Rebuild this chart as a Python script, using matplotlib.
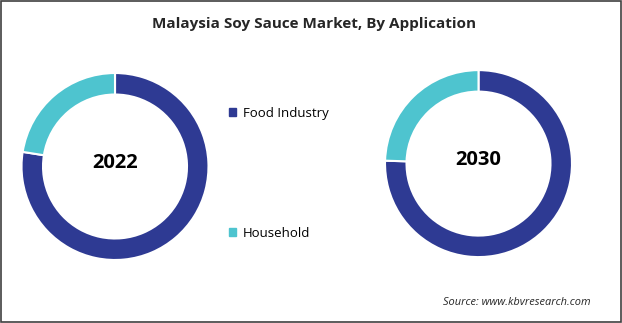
import matplotlib.pyplot as plt
from matplotlib.patches import Rectangle, Patch

# datos (porcentaje aprox.)
categorias = ["Food Industry", "Household"]
anios = ["2022", "2030"]
valores_2022 = [77.5, 22.5]
valores_2030 = [75.5, 24.5]
colores = ["#2E3A93", "#4EC4CF"]

plt.rcParams['font.family'] = ['Open Sans', 'DejaVu Sans']

fig = plt.figure(figsize=(6.22, 3.23), dpi=100)

# marco exterior
fig.patches.append(Rectangle((0.001, 0.002), 0.997, 0.995, transform=fig.transFigure,
                             fill=False, edgecolor="#404040", linewidth=1.2))

fig.text(0.505, 0.925, "Malaysia Soy Sauce Market, By Application", ha="center", va="center",
         fontsize=11, fontweight="bold", color="#262626")

posiciones = [[0.0346, 0.195, 0.3006, 0.579], [0.619, 0.204, 0.3006, 0.579]]
for pos, anio, vals in zip(posiciones, anios, [valores_2022, valores_2030]):
    ax = fig.add_axes(pos)
    ax.pie(vals, colors=colores, startangle=90, counterclock=False, radius=1,
           wedgeprops=dict(width=0.23, edgecolor="white", linewidth=1.5))
    ax.set_xlim(-1, 1)
    ax.set_ylim(-1, 1)
    ax.set_aspect("equal")
    ax.text(0, 0.04, anio, ha="center", va="center", fontsize=14.5, fontweight="bold", color="black")
    ax.axis("off")

handles = [Patch(facecolor=c, edgecolor=c) for c in colores]
fig.legend(handles, categorias, loc="upper left", bbox_to_anchor=(0.36, 0.685), frameon=False,
           fontsize=9.5, handlelength=0.55, handleheight=0.55, handletextpad=0.5,
           labelspacing=8.1, borderaxespad=0)

fig.text(0.712, 0.065, "Source: www.kbvresearch.com", ha="left", va="center",
         fontsize=7.9, style="italic", color="#262626")

fig.savefig("out.png", dpi=100)
